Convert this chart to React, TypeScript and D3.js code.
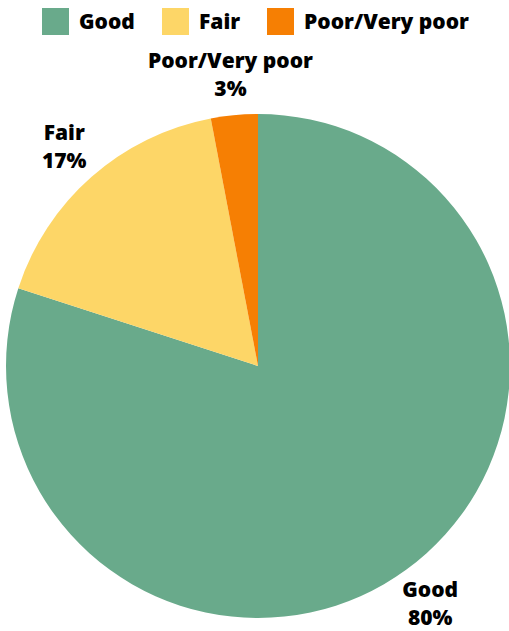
import React from "react";
import * as d3 from "d3";

const categories = ["Good", "Fair", "Poor/Very poor"];
const values = [80, 17, 3];
const labels = ["80%", "17%", "3%"];
const colors = ["#69AA8B", "#FDD667", "#F67F03"];

const W = 509;
const H = 631;
const cx = 258;
const cy = 366;
const R = 252;
const labelR = 293;
const font = "'Open Sans', sans-serif";

const legendX = [42, 162, 267];

export default function App() {
  const pie = d3.pie<number>().sort(null).value((d) => d);
  const arcs = pie(values);
  const arcGen = d3.arc<d3.PieArcDatum<number>>().innerRadius(0).outerRadius(R);
  const labelArc = d3.arc<d3.PieArcDatum<number>>().innerRadius(labelR).outerRadius(labelR);

  return (
    <svg
      width={W}
      height={H}
      style={{ position: "absolute", left: 0, top: 0 }}
      fontFamily={font}
      fontWeight={800}
    >
      <g>
        {categories.map((c, i) => (
          <g key={c} transform={`translate(${legendX[i]},8)`}>
            <rect width={27} height={27} fill={colors[i]} />
            <text x={37} y={20.5} fontSize={21} fill="#000">
              {c}
            </text>
          </g>
        ))}
      </g>
      <g transform={`translate(${cx},${cy})`}>
        {arcs.map((a, i) => (
          <path key={i} d={arcGen(a) || ""} fill={colors[i]} />
        ))}
        {arcs.map((a, i) => {
          const [x, y] = labelArc.centroid(a);
          return (
            <text key={"l" + i} textAnchor="middle" fontSize={21} fill="#000">
              <tspan x={x} y={y - 6}>
                {categories[i]}
              </tspan>
              <tspan x={x} y={y + 22}>
                {labels[i]}
              </tspan>
            </text>
          );
        })}
      </g>
    </svg>
  );
}
